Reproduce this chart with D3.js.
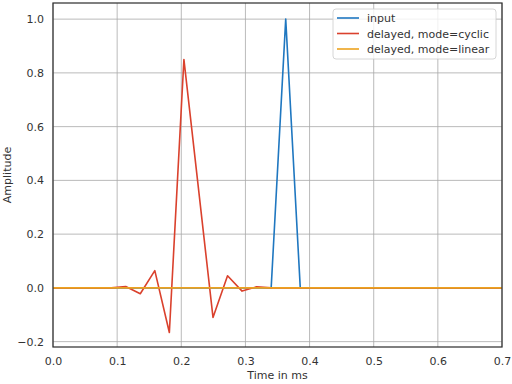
<!DOCTYPE html>
<html>
<head>
<meta charset="utf-8">
<script src="https://cdn.jsdelivr.net/npm/d3@7"></script>
<style>
body { margin: 0; background: #fff; }
text { font-family: "DejaVu Sans", sans-serif; fill: #333; }
</style>
</head>
<body>
<div id="chart"></div>
<script>
var width = 512;
var height = 384;

// sample rate 44.1 kHz -> time in ms
var fs = 44.1;
var input = [0,0,0,0,0,0,0,0,0,0,0,0,0,0,0,0,1,0,0,0,0,0,0,0,0,0,0,0,0,0,0,0];
var cyclic = [0,0,0,0,0,0.005,-0.022,0.064,-0.166,0.85,0.37,-0.11,0.045,-0.012,0.004,0,0,0,0,0,0,0,0,0,0,0,0,0,0,0,0,0];
var linear = [0,0,0,0,0,0,0,0,0,0,0,0,0,0,0,0,0,0,0,0,0,0,0,0,0,0,0,0,0,0,0,0];
var series = [
	{name: "input", values: input, color: "#1f77c0"},
	{name: "delayed, mode=cyclic", values: cyclic, color: "#da412d"},
	{name: "delayed, mode=linear", values: linear, color: "#eda21f"}
];
var xTicks = [0, 0.1, 0.2, 0.3, 0.4, 0.5, 0.6, 0.7];
var yTicks = [-0.2, 0, 0.2, 0.4, 0.6, 0.8, 1.0];

var margin = {left: 53, right: 10, top: 3, bottom: 37};

var svg = d3.select("#chart").append("svg")
	.attr("width", width)
	.attr("height", height);

var x = d3.scaleLinear().domain([0, 0.7]).range([margin.left, width - margin.right]);
var y = d3.scaleLinear().domain([-0.22, 1.06]).range([height - margin.bottom, margin.top]);

// grid
var grid = svg.append("g");
grid.selectAll(".vx").data(xTicks).enter().append("line")
	.attr("x1", d => x(d)).attr("x2", d => x(d))
	.attr("y1", y.range()[0]).attr("y2", y.range()[1])
	.attr("stroke", "#a8a8a8").attr("stroke-width", 0.8);
grid.selectAll(".hy").data(yTicks).enter().append("line")
	.attr("x1", x.range()[0]).attr("x2", x.range()[1])
	.attr("y1", d => y(d)).attr("y2", d => y(d))
	.attr("stroke", "#a8a8a8").attr("stroke-width", 0.8);

// lines
var clip = svg.append("clipPath").attr("id", "clip").append("rect")
	.attr("x", margin.left).attr("y", margin.top)
	.attr("width", width - margin.left - margin.right)
	.attr("height", height - margin.top - margin.bottom);

var line = d3.line()
	.x((d, i) => x(i / fs))
	.y(d => y(d));

svg.append("g").attr("clip-path", "url(#clip)")
	.selectAll("path").data(series).enter().append("path")
	.attr("d", d => line(d.values))
	.attr("fill", "none")
	.attr("stroke", d => d.color)
	.attr("stroke-width", 1.6)
	.attr("stroke-linejoin", "round");

// frame
svg.append("rect")
	.attr("x", margin.left).attr("y", margin.top)
	.attr("width", width - margin.left - margin.right)
	.attr("height", height - margin.top - margin.bottom)
	.attr("fill", "none").attr("stroke", "#333").attr("stroke-width", 1.25);

// axes
var xAxis = svg.append("g")
	.attr("transform", "translate(0," + (height - margin.bottom) + ")")
	.call(d3.axisBottom(x).tickValues(xTicks).tickSize(0).tickPadding(10).tickFormat(d3.format(".1f")));
var yAxis = svg.append("g")
	.attr("transform", "translate(" + margin.left + ",0)")
	.call(d3.axisLeft(y).tickValues(yTicks).tickSize(0).tickPadding(9).tickFormat(d => d3.format(".1f")(d).replace("-", "\u2212")));
[xAxis, yAxis].forEach(function(a) {
	a.select(".domain").remove();
	a.selectAll("text").attr("font-size", 11).attr("font-family", "DejaVu Sans, sans-serif").attr("fill", "#333");
});

svg.append("text")
	.attr("x", (margin.left + width - margin.right) / 2)
	.attr("y", 379)
	.attr("text-anchor", "middle")
	.attr("font-size", 11)
	.text("Time in ms");
svg.append("text")
	.attr("transform", "translate(11," + ((margin.top + height - margin.bottom) / 2) + ") rotate(-90)")
	.attr("text-anchor", "middle")
	.attr("font-size", 11)
	.text("Amplitude");

// legend
var legend = svg.append("g").attr("transform", "translate(333,9)");
legend.append("rect")
	.attr("width", 163).attr("height", 50).attr("rx", 3)
	.attr("fill", "#fff").attr("fill-opacity", 0.8)
	.attr("stroke", "#ccc").attr("stroke-width", 0.8);
series.forEach(function(s, i) {
	var yy = 9 + i * 15.5;
	legend.append("line")
		.attr("x1", 4).attr("x2", 26).attr("y1", yy).attr("y2", yy)
		.attr("stroke", s.color).attr("stroke-width", 1.6);
	legend.append("text")
		.attr("x", 34).attr("y", yy + 4)
		.attr("font-size", 11)
		.text(s.name);
});
</script>
</body>
</html>
